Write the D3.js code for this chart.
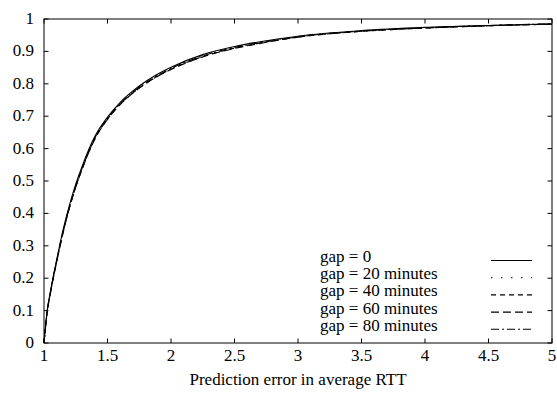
<!DOCTYPE html>
<html>
<head>
<meta charset="utf-8">
<script src="https://cdn.jsdelivr.net/npm/d3@7"></script>
</head>
<body style="margin:0">
<svg id="s" width="557" height="394"></svg>
<script>
const xVals  = [1, 1.025, 1.05, 1.075, 1.1, 1.15, 1.2, 1.25, 1.3, 1.35, 1.4, 1.5, 1.6, 1.7, 1.8, 1.9, 2.0, 2.25, 2.5, 2.75, 3.0, 3.5, 4.0, 4.5, 5.0];
const gap0   = [0, 0.100, 0.158, 0.210, 0.257, 0.349, 0.425, 0.490, 0.545, 0.595, 0.637, 0.697, 0.743, 0.778, 0.807, 0.831, 0.851, 0.890, 0.915, 0.933, 0.947, 0.964, 0.974, 0.980, 0.985];
const gap20  = [0, 0.098, 0.155, 0.207, 0.254, 0.345, 0.421, 0.486, 0.541, 0.591, 0.633, 0.694, 0.740, 0.775, 0.804, 0.828, 0.848, 0.887, 0.913, 0.931, 0.946, 0.963, 0.973, 0.980, 0.985];
const gap40  = [0, 0.096, 0.152, 0.204, 0.251, 0.341, 0.417, 0.482, 0.537, 0.587, 0.630, 0.691, 0.737, 0.772, 0.801, 0.825, 0.845, 0.884, 0.910, 0.929, 0.944, 0.962, 0.972, 0.979, 0.984];
const gap60  = [0, 0.095, 0.151, 0.203, 0.250, 0.340, 0.416, 0.481, 0.536, 0.586, 0.629, 0.690, 0.736, 0.771, 0.800, 0.824, 0.844, 0.883, 0.909, 0.928, 0.944, 0.962, 0.972, 0.979, 0.984];
const gap80  = [0, 0.097, 0.154, 0.206, 0.253, 0.343, 0.419, 0.484, 0.539, 0.589, 0.632, 0.693, 0.739, 0.774, 0.803, 0.827, 0.847, 0.886, 0.912, 0.930, 0.945, 0.963, 0.973, 0.980, 0.985];

const seriesNames = ["gap = 0", "gap = 20 minutes", "gap = 40 minutes", "gap = 60 minutes", "gap = 80 minutes"];
const seriesData  = [gap0, gap20, gap40, gap60, gap80];
const dashes      = [null, "1.5,8.5", "5,4", "8,4", "8,3,2,3"];

const xTicks = [1, 1.5, 2, 2.5, 3, 3.5, 4, 4.5, 5];
const yTicks = [0, 0.1, 0.2, 0.3, 0.4, 0.5, 0.6, 0.7, 0.8, 0.9, 1];
const xLabel = "Prediction error in average RTT";

const W = 557, H = 394;
const margin = { left: 44, right: 5, top: 19, bottom: 51 };
const TICK = 4.5;
const FONT = `"Liberation Serif", monospace`;
const FSIZE = 17;

const svg = d3.select("#s");
const x = d3.scaleLinear().domain([1, 5]).range([margin.left, W - margin.right]);
const y = d3.scaleLinear().domain([0, 1]).range([H - margin.bottom, margin.top]);

function addText(parent, tx, ty, str, anchor) {
  return parent.append("text")
    .attr("x", tx).attr("y", ty)
    .attr("font-size", FSIZE)
    .attr("text-anchor", anchor)
    .style("font-family", FONT, "important")
    .text(str);
}

// ticks (mirrored, pointing inward)
const tg = svg.append("g").attr("stroke", "#000").attr("stroke-width", 1);
xTicks.forEach(t => {
  tg.append("line").attr("x1", x(t)).attr("x2", x(t)).attr("y1", y(0)).attr("y2", y(0) - TICK);
  tg.append("line").attr("x1", x(t)).attr("x2", x(t)).attr("y1", y(1)).attr("y2", y(1) + TICK);
});
yTicks.forEach(t => {
  tg.append("line").attr("x1", x(1)).attr("x2", x(1) + TICK).attr("y1", y(t)).attr("y2", y(t));
  tg.append("line").attr("x1", x(5)).attr("x2", x(5) - TICK).attr("y1", y(t)).attr("y2", y(t));
});

xTicks.forEach(t => addText(svg, x(t), y(0) + 18, t, "middle"));
yTicks.forEach(t => addText(svg, 34, y(t) + 5, t, "end"));
addText(svg, x(3), 385, xLabel, "middle");

// curves
const line = d3.line()
  .x((d, i) => x(xVals[i]))
  .y(d => y(d))
  .curve(d3.curveMonotoneX);

seriesData.forEach((s, k) => {
  svg.append("path")
    .attr("d", line(s))
    .attr("fill", "none")
    .attr("stroke", "#000")
    .attr("stroke-width", 1.1)
    .attr("stroke-dasharray", dashes[k]);
});

// legend
seriesNames.forEach((n, k) => {
  const yy = 261 + k * 17.2;
  addText(svg, 320, yy + 1, n, "start");
  svg.append("line")
    .attr("x1", 491).attr("x2", 532)
    .attr("y1", yy - 0.5).attr("y2", yy - 0.5)
    .attr("stroke", "#000").attr("stroke-width", 1.1)
    .attr("stroke-dasharray", dashes[k]);
});

// frame
svg.append("rect")
  .attr("x", x(1)).attr("y", y(1))
  .attr("width", x(5) - x(1)).attr("height", y(0) - y(1))
  .attr("fill", "none").attr("stroke", "#000").attr("stroke-width", 1);
</script>
</body>
</html>
